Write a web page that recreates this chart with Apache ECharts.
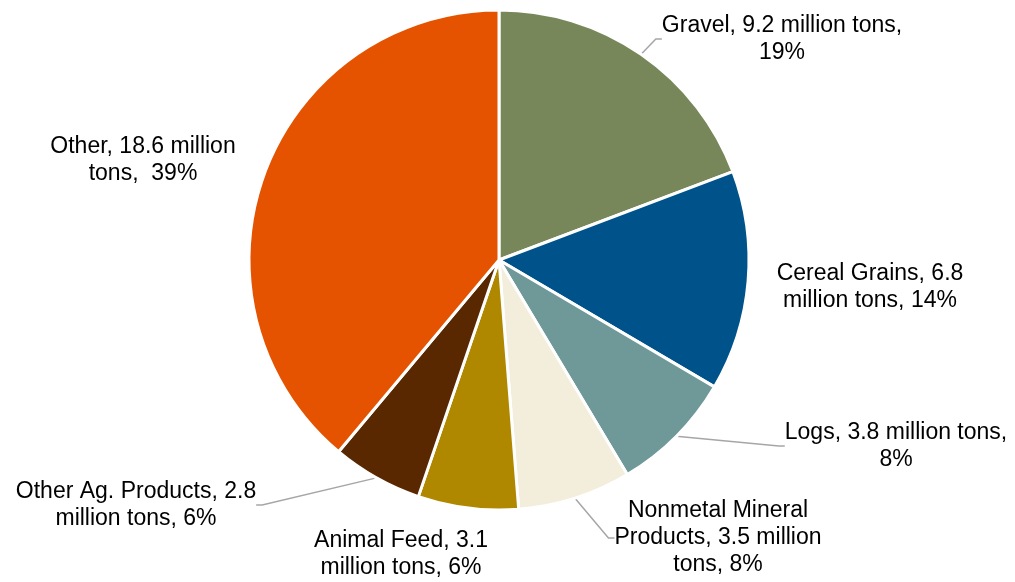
<!DOCTYPE html>
<html>
<head>
<meta charset="utf-8">
<script src="https://cdn.jsdelivr.net/npm/echarts@6/dist/echarts.min.js"></script>
<style>
  html, body { margin: 0; padding: 0; background: #fff; }
  #main { width: 1015px; height: 582px; }
</style>
</head>
<body>
<div id="main"></div>
<script>
// 各类货物 (百万吨), 从顶部顺时针
var names = ['Gravel', 'Cereal Grains', 'Logs', 'Nonmetal Mineral Products', 'Animal Feed', 'Other Ag. Products', 'Other'];
var values = [9.2, 6.8, 3.8, 3.5, 3.1, 2.8, 18.6];
var labelTexts = [
    'Gravel, 9.2 million tons,\n19%',
    'Cereal Grains, 6.8\nmillion tons, 14%',
    'Logs, 3.8 million tons,\n8%',
    'Nonmetal Mineral\nProducts, 3.5 million\ntons, 8%',
    'Animal Feed, 3.1\nmillion tons, 6%',
    'Other Ag. Products, 2.8\nmillion tons, 6%',
    'Other, 18.6 million\ntons,  39%'
];
var colors = ['#77875a', '#00538a', '#6f9899', '#f3eedc', '#b08800', '#5a2800', '#e55300'];
var showLine = [true, false, true, true, false, true, false];

// 标签中心位置
var labelPos = [
    [782, 39], [870, 287], [896, 446], [718, 538], [401, 554], [136, 505], [143, 160]
];

var seriesData = [];
for (var i = 0; i < values.length; i++) {
    seriesData.push({
        name: names[i],
        value: values[i],
        itemStyle: { color: colors[i] },
        label: { formatter: labelTexts[i] },
        labelLine: { show: showLine[i] }
    });
}

var myChart = echarts.init(document.getElementById('main'));
var option = {
    animation: false,
    series: [{
        type: 'pie',
        center: [499, 260],
        radius: 250,
        startAngle: 90,
        clockwise: true,
        data: seriesData,
        itemStyle: { borderColor: '#fff', borderWidth: 3 },
        label: {
            show: true,
            position: 'outside',
            color: '#000',
            fontFamily: 'Liberation Sans, Arial, sans-serif',
            fontSize: 23,
            lineHeight: 27,
            align: 'center'
        },
        labelLine: {
            show: true,
            lineStyle: { color: '#a6a6a6', width: 1.5 },
            length: 10,
            length2: 6
        },
        labelLayout: function (params) {
            var p = labelPos[params.dataIndex];
            return {
                x: p[0],
                y: p[1],
                align: 'center',
                verticalAlign: 'middle'
            };
        }
    }]
};
myChart.setOption(option);
</script>
</body>
</html>
